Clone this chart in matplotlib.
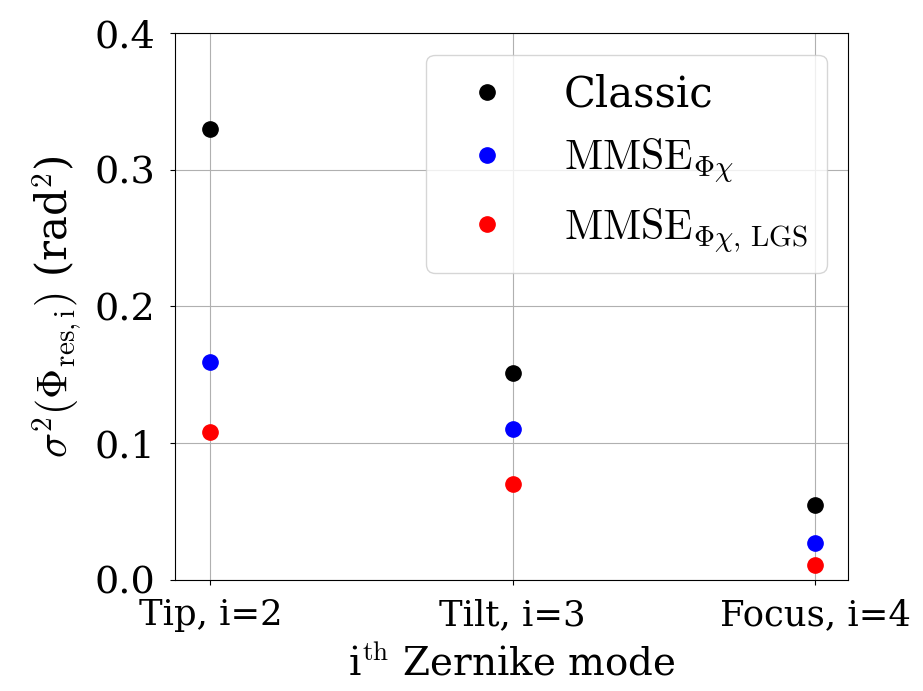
import numpy as np
import matplotlib
matplotlib.use("Agg")
import matplotlib.pyplot as plt

plt.rcParams['font.family'] = 'serif'
plt.rcParams['font.serif'] = ['DejaVu Serif']
plt.rcParams['mathtext.fontset'] = 'cm'
plt.rcParams['font.size'] = 26

modes = ["Tip, i=2", "Tilt, i=3", "Focus, i=4"]
classic = [0.330, 0.151, 0.055]
mmse = [0.159, 0.110, 0.027]
mmse_lgs = [0.108, 0.070, 0.011]

fig = plt.figure(figsize=(9.23, 6.91), dpi=100)
ax = fig.add_axes([0.19, 0.161, 0.729, 0.791])

x = np.arange(len(modes))
ax.plot(x, classic, 'o', color='black', markersize=11, label='Classic')
ax.plot(x, mmse, 'o', color='blue', markersize=11, label=r'$\mathrm{MMSE}_{\Phi\chi}$')
ax.plot(x, mmse_lgs, 'o', color='red', markersize=11, label=r'$\mathrm{MMSE}_{\Phi\chi,\,\mathrm{LGS}}$')

ax.set_xticks(x)
ax.set_xticklabels(modes)
ax.tick_params(axis='x', labelsize=25.5, pad=10)
ax.tick_params(axis='y', labelsize=27.5, pad=11)
ax.set_xlim(-0.116, 2.11)
ax.set_ylim(0, 0.4)
ax.set_yticks([0.0, 0.1, 0.2, 0.3, 0.4])
ax.grid(True)
ax.set_xlabel(r'i$^{\rm th}$ Zernike mode', fontsize=28, labelpad=9)
ax.set_ylabel(r'$\sigma^2(\Phi_{\rm res,i})$ (rad$^2$)', fontsize=30, labelpad=8)
ax.legend(loc='upper right', fontsize=30, handletextpad=0.85, labelspacing=0.5,
          borderpad=0.45, borderaxespad=0.52)

fig.savefig('out.png', dpi=100)
